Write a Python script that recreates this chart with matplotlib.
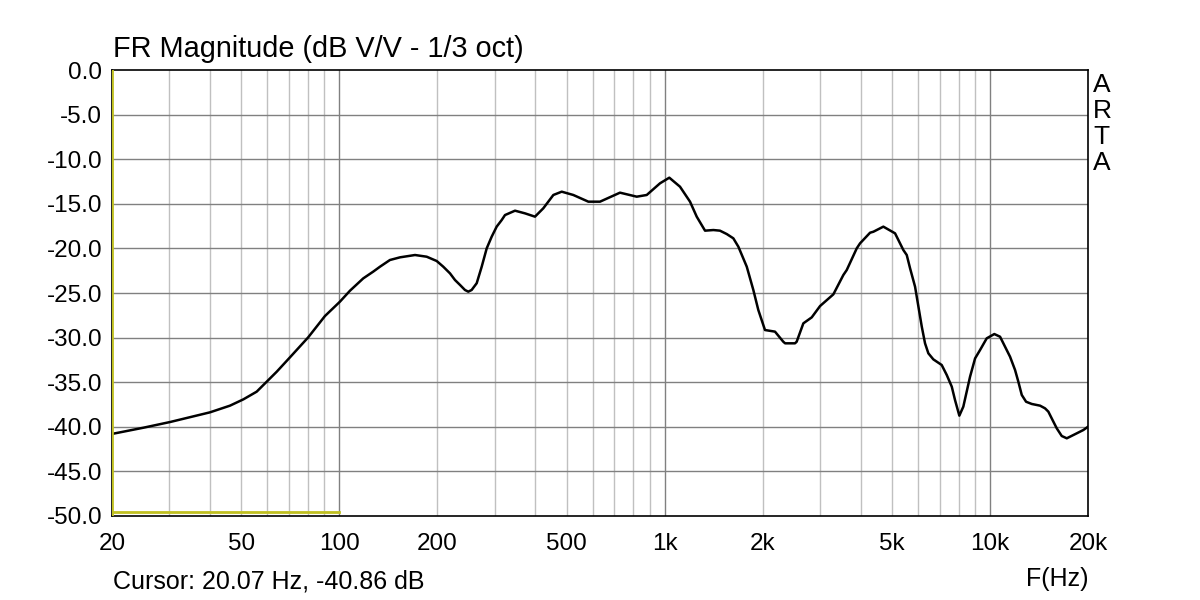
import numpy as np
import matplotlib.pyplot as plt
from matplotlib.ticker import FixedLocator, NullFormatter

plt.rcParams['font.family'] = ['Liberation Sans', 'DejaVu Sans']

# frequency response (Hz, dB)
freq = [20, 25.0, 30.2, 40.0, 46.1, 50.7, 55.7, 59.8, 64.2, 70.5, 80.2, 90.3, 100.4, 107.8,
        118.4, 127.1, 133.3, 143.0, 153.6, 170.8, 185.5, 199.1, 208.6, 218.8, 226.6, 234.9,
        243.2, 249.0, 255, 264.3, 273.8, 283.7, 293.8, 304.4, 315.4, 322.9, 346.6, 372.0,
        399.2, 423.5, 454.6, 482.4, 523.6, 582.4, 632.5, 728.6, 820.3, 880.4, 967.2, 1032.9,
        1114, 1196, 1254, 1330, 1411, 1478, 1551, 1625, 1684, 1787, 1872, 1939, 2033, 2182,
        2314, 2344, 2514, 2544, 2667, 2830, 3002, 3298, 3540, 3626, 3892, 3984, 4276, 4378,
        4698, 5104, 5412, 5544, 5676, 5880, 6166, 6310, 6460, 6692, 7100, 7358, 7624, 7802,
        8044, 8274, 8678, 8992, 9314, 9764, 10304, 10730, 11516, 11932, 12212, 12512, 12900,
        13430, 14244, 14752, 15102, 15652, 16026, 16602, 17206, 18468, 19346, 20000]
mag = [-40.8, -40.1, -39.46, -38.38, -37.63, -36.92, -36.06, -34.94, -33.82, -32.21, -29.97,
       -27.58, -25.97, -24.74, -23.36, -22.6, -22.05, -21.3, -21.0, -20.74, -20.93, -21.41,
       -22.05, -22.8, -23.54, -24.1, -24.66, -24.85, -24.66, -23.9, -22.05, -19.99, -18.69,
       -17.56, -16.82, -16.26, -15.77, -16.07, -16.44, -15.5, -14.01, -13.64, -14.01, -14.76,
       -14.76, -13.75, -14.2, -14.01, -12.7, -12.07, -13.08, -14.76, -16.44, -18.01, -17.94,
       -18.01, -18.39, -18.87, -19.81, -22.05, -24.66, -26.9, -29.15, -29.33, -30.46, -30.64,
       -30.64, -30.46, -28.4, -27.73, -26.46, -25.15, -22.98, -22.42, -19.99, -19.43, -18.24,
       -18.13, -17.56, -18.31, -20.18, -20.74, -22.23, -24.29, -28.77, -30.64, -31.76, -32.44,
       -33.07, -34.19, -35.5, -37.0, -38.75, -37.74, -34.38, -32.33, -31.39, -30.08, -29.6,
       -29.9, -32.14, -33.63, -34.94, -36.43, -37.19, -37.44, -37.63, -37.93, -38.3, -39.43,
       -40.17, -41.03, -41.29, -40.73, -40.36, -39.99]

xticks = [20, 50, 100, 200, 500, 1000, 2000, 5000, 10000, 20000]
xlabels = ['20', '50', '100', '200', '500', '1k', '2k', '5k', '10k', '20k']
yticks = np.arange(0, -55, -5)
minor_f = [30, 40, 50, 60, 70, 80, 90, 200, 300, 400, 500, 600, 700, 800, 900,
           2000, 3000, 4000, 5000, 6000, 7000, 8000, 9000]

cursor_f = 20.07
marker_f = [20, 100]
marker_db = -49.6

fig = plt.figure(figsize=(12, 6), dpi=100)
ax = fig.add_axes([0.0933, 0.14, 0.8134, 0.7433])

ax.set_xscale('log')
ax.set_xlim(20, 20000)
ax.set_ylim(-50, 0)

for f in minor_f:
    ax.axvline(f, color='#c0c0c0', lw=1, zorder=1)
for f in [100, 1000, 10000]:
    ax.axvline(f, color='#808080', lw=1, zorder=1)
for y in yticks[1:-1]:
    ax.axhline(y, color='#808080', lw=1, zorder=1)

ax.plot(freq, mag, color='black', lw=1.8, zorder=3)
ax.plot(marker_f, [marker_db, marker_db], color='#c0c020', lw=2, zorder=2)
ax.axvline(cursor_f, color='#c0c020', lw=2, zorder=4)

ax.xaxis.set_major_locator(FixedLocator(xticks))
ax.set_xticklabels(xlabels)
ax.xaxis.set_minor_formatter(NullFormatter())
ax.set_yticks(yticks)
ax.set_yticklabels([f'{v:.1f}' for v in yticks])
ax.tick_params(which='both', length=0, labelsize=17.5)
ax.tick_params(axis='x', pad=12)
ax.tick_params(axis='y', pad=7)
for s in ax.spines.values():
    s.set_color('black')
    s.set_linewidth(1.2)

fig.text(0.094, 0.905, 'FR Magnitude (dB V/V - 1/3 oct)', fontsize=20.8, ha='left', va='baseline')
fig.text(0.094, 0.02, 'Cursor: 20.07 Hz, -40.86 dB', fontsize=18, ha='left', va='baseline')
fig.text(0.907, 0.023, 'F(Hz)', fontsize=18, ha='right', va='baseline')
for i, ch in enumerate('ARTA'):
    fig.text(0.911, 0.846 - i * 0.0433, ch, fontsize=19, ha='left', va='baseline')

fig.savefig('out.png', dpi=100)
